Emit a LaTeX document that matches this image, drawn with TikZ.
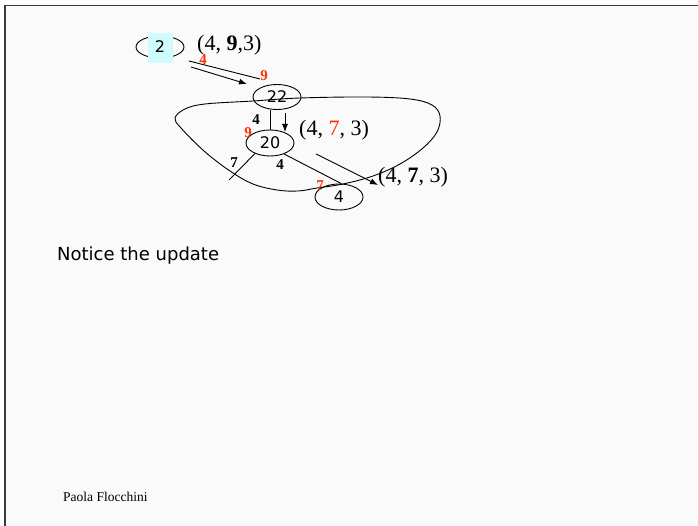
\documentclass[tikz,border=0pt]{standalone}
\usepackage{fontspec}
\setmainfont{Liberation Serif}
\newfontfamily\comicfont{DejaVu Sans}
\usetikzlibrary{shapes.geometric,arrows.meta}
\definecolor{bgcol}{HTML}{FAFAFA}
\definecolor{framecol}{HTML}{3A3A3A}
\definecolor{cyanbox}{HTML}{CFFBFD}
\definecolor{redlab}{HTML}{FF3300}
\begin{document}
\begin{tikzpicture}[x=1pt,y=-1pt,
  vert/.style={ellipse,draw,line width=0.9pt,inner sep=0pt,minimum width=48pt,minimum height=25pt,font=\comicfont\fontsize{16}{18}\selectfont},
  tuple/.style={anchor=west,inner sep=0pt,font=\fontsize{22}{26}\selectfont},
  wlab/.style={inner sep=0pt,font=\bfseries\fontsize{15}{17}\selectfont},
  rlab/.style={wlab,text=redlab},
  edge/.style={line width=0.9pt},
  arr/.style={line width=0.9pt,-{Latex[length=8pt,width=6pt]}}]
\useasboundingbox (0,0) rectangle (698,526);
\fill[white] (0,0) rectangle (698,526);
\fill[bgcol] (5,5) rectangle (698,526);
\draw[framecol,line width=1.6pt] (5,526) -- (5,5.5) -- (698,5.5);

% closed loop
\draw[line width=0.9pt] plot[smooth cycle,tension=0.6] coordinates {
 (175,118) (185,109) (205,104) (253,101) (300,98) (367,97) (410,99) (432,105)
 (440,116) (437,132) (423,148) (400,164) (373,176) (343,184) (317,188)
 (298,191) (277,190) (253,184) (230,171) (204,151) (181,128)};

% node 2
\node[vert,minimum height=22pt] (n2) at (160,47) {};
\fill[cyanbox] (148,33) rectangle (173,63);
\node[inner sep=0pt,font=\comicfont\fontsize{16}{18}\selectfont] (t2) at (160,47) {2};

% other nodes
\node[vert] (n22) at (277,97) {22};
\node[vert,minimum height=26pt] (n20) at (270,143) {20};
\node[vert,minimum height=26pt] (n4) at (339,197) {4};

% tuples
\node[tuple] (tp1) at (197,45) {(4, \textbf{9},3)};
\node[tuple] (tp2) at (299,130) {(4, \textcolor{redlab}{7}, 3)};
\node[tuple] (tp3) at (378,177) {(4, \textbf{7}, 3)};

% messages from 2 to 22
\coordinate (a1s) at (189,61);
\coordinate (a1e) at (260,79);
\draw[edge] (a1s) -- (a1e);
\coordinate (a2s) at (191,67);
\coordinate (a2e) at (247,84);
\draw[arr] (a2s) -- (a2e);

% edge 22 - 20
\draw[edge] (n20.north) -- (n20.north |- n22.south);
\coordinate (a3s) at (285,113);
\coordinate (a3e) at (285,132);
\draw[arr] (a3s) -- (a3e);

% edge from 20 to the left
\coordinate (e7) at (229,180);
\draw[edge] (n20.215) -- (e7);
% edge 20 - 4
\draw[edge] (n20.-38) -- (n4.80);
% message to 4
\coordinate (a4s) at (316,154);
\coordinate (a4e) at (378,185);
\draw[arr] (a4s) -- (a4e);

% labels
\node[rlab] (l1) at (203,60) {4};
\node[rlab] (l2) at (264,76) {9};
\node[wlab] (l3) at (256,120) {4};
\node[rlab] (l4) at (248,133) {9};
\node[wlab] (l5) at (234,163) {7};
\node[wlab] (l6) at (280,165) {4};
\node[rlab] (l7) at (320,186) {7};

% texts
\node[anchor=west,inner sep=0pt,font=\comicfont\fontsize{18}{21}\selectfont] (notice) at (57,256) {Notice the update};
\node[anchor=west,inner sep=0pt,font=\fontsize{13.5}{15}\selectfont] (author) at (63,497) {Paola Flocchini};
\end{tikzpicture}
\end{document}
